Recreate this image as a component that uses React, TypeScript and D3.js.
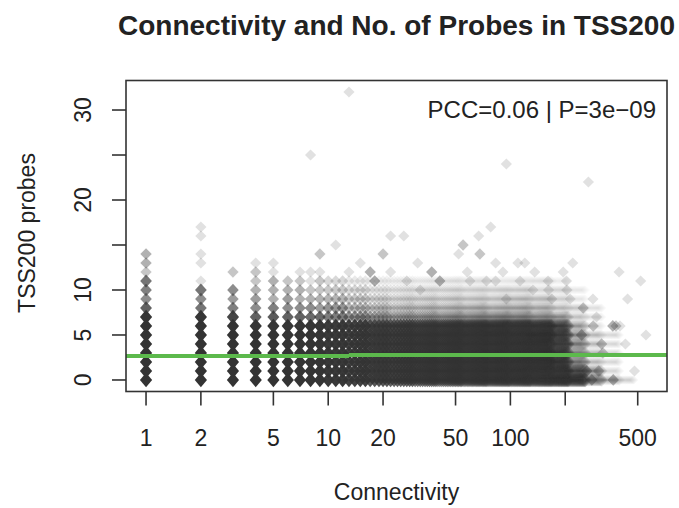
import React, { useMemo } from "react";
import * as d3 from "d3";

const W = 679;
const H = 508;
const BOX = { left: 126, right: 667, top: 80.5, bottom: 391.5 };

const xTicks = [1, 2, 5, 10, 20, 50, 100, 200, 500];
const xTickLabels = ["1", "2", "5", "10", "20", "50", "100", "", "500"];
const yTicks = [0, 5, 10, 15, 20, 25, 30];
const yTickLabels = ["0", "5", "10", "", "20", "", "30"];

const xDataRange = [1, 562];
const yDataRange = [0, 32];

// discrete connectivity columns: number of genes at TSS200 probes = 0,1,2,...
const columnX = [1, 2, 3, 4, 5, 6, 7, 8, 9];
const columnCounts: number[][] = [
  [40, 40, 40, 40, 40, 40, 40, 30, 9, 5, 6, 7, 2, 3, 3],
  [40, 40, 40, 40, 40, 40, 40, 25, 7, 5, 7, 1, 0, 1, 1, 0, 1, 1],
  [40, 40, 40, 40, 40, 40, 35, 15, 6, 4, 5, 0, 2],
  [40, 40, 40, 40, 40, 40, 30, 9, 5, 4, 3, 2, 2, 1],
  [40, 40, 40, 40, 40, 40, 30, 10, 6, 3, 3, 3, 1, 1],
  [35, 35, 35, 35, 35, 35, 25, 9, 5, 4, 3, 2],
  [35, 35, 35, 35, 35, 35, 25, 9, 5, 3, 3, 2, 1],
  [35, 35, 35, 35, 35, 35, 25, 8, 5, 3, 2, 1, 1],
  [30, 30, 30, 30, 30, 30, 25, 8, 4, 3, 2, 2, 1],
];

// dense region: mean genes per connectivity value, by connectivity bin (rows = probes 0..11)
const binStarts = [10, 13, 17, 22, 30, 40, 55, 75, 100, 130, 170, 210, 260, 320, 400, 480];
const binLast = 562;
const denseRows: number[][] = [
  [22, 16, 11, 9, 6.8, 5, 3.7, 2.7, 2.1, 1.6, 1.3, 0.75, 0.19, 0.055, 0.014, 0.003],
  [22, 16, 11, 9, 6.8, 5, 3.7, 2.7, 2.1, 1.6, 1.0, 0.4, 0.11, 0.033, 0.009, 0.0015],
  [22, 16, 11, 9, 6.8, 5, 3.7, 2.7, 2.1, 1.5, 0.8, 0.22, 0.06, 0.02, 0.005, 0],
  [22, 16, 11, 9, 6.8, 5, 3.7, 2.7, 2.1, 1.5, 0.76, 0.2, 0.055, 0.018, 0.0045, 0],
  [22, 16, 11, 9, 6.8, 5, 3.7, 2.7, 2.1, 1.5, 0.72, 0.18, 0.05, 0.016, 0.004, 0],
  [22, 16, 11, 9, 6.8, 5, 3.7, 2.7, 2.1, 1.4, 0.65, 0.15, 0.045, 0.015, 0.004, 0],
  [20, 15, 10, 8, 6, 4.5, 3.3, 2.4, 1.9, 1.3, 0.55, 0.12, 0.035, 0.012, 0.003, 0],
  [6.3, 4.6, 3.2, 2.1, 1.6, 1.16, 0.85, 0.63, 0.48, 0.32, 0.17, 0.068, 0.027, 0.011, 0.0036, 0],
  [4.5, 2.6, 1.8, 1.2, 0.9, 0.66, 0.49, 0.36, 0.28, 0.19, 0.105, 0.041, 0.016, 0.0066, 0.0018, 0],
  [2.8, 1.9, 1.2, 0.8, 0.6, 0.43, 0.31, 0.23, 0.17, 0.11, 0.065, 0.026, 0.01, 0.004, 0.0013, 0],
  [1.9, 1.3, 0.75, 0.52, 0.39, 0.3, 0.22, 0.15, 0.12, 0.075, 0.045, 0.018, 0.0075, 0.002, 0, 0],
  [1.3, 0.72, 0.4, 0.29, 0.21, 0.16, 0.11, 0.08, 0.064, 0.04, 0.024, 0.01, 0.005, 0.0016, 0, 0],
];

// isolated points: connectivity, probes, multiplicity
const sparseX = [13, 8, 95, 268, 78, 67, 22, 26, 55, 11, 68, 52, 20, 9, 110, 120, 220, 83, 15, 31, 395, 136, 195, 91, 58, 13, 22, 37, 17, 519, 161, 203, 74, 41, 18, 60, 83, 113, 27, 284, 440, 555, 480, 428, 380, 367, 317, 322, 297, 251, 246, 285, 263, 305, 280, 400, 204, 169, 95, 133, 162, 213, 32, 365];
const sparseY = [32, 25, 24, 22, 17, 16, 16, 16, 15, 15, 14, 14, 14, 14, 13, 13, 13, 13, 13, 13, 12, 12, 12, 12, 12, 12, 12, 12, 12, 11, 11, 11, 11, 11, 11, 11, 11, 11, 11, 9, 9, 5, 1, 4, 6, 0, 4, 3, 7, 8, 5, 6, 1, 1, 0, 6, 10, 9, 9, 10, 10, 9, 10, 6];
const sparseN = [1, 1, 1, 1, 1, 1, 1, 1, 2, 1, 2, 1, 2, 2, 1, 1, 1, 1, 1, 1, 1, 1, 1, 1, 1, 1, 1, 3, 3, 1, 1, 1, 1, 3, 3, 1, 1, 1, 1, 1, 1, 1, 1, 1, 2, 3, 2, 2, 1, 2, 3, 2, 3, 2, 3, 1, 1, 1, 1, 1, 1, 1, 1, 3];

const fitIntercept = 2.65;
const fitSlope = 0.063; // per log10(connectivity)

const title = "Connectivity and No. of Probes in TSS200";
const statLabel = "PCC=0.06 | P=3e\u221209";
const xTitle = "Connectivity";
const yTitle = "TSS200 probes";

const POINT_ALPHA = 0.15;
const POINT_COLOR = "#333333";
const RX = 5.6;
const RY = 5.6;
const FONT = "'Liberation Sans', Arial, Helvetica, sans-serif";
const TEXT = "#222";

function diamond(cx: number, cy: number, nEff: number) {
  // heavy overplotting spreads the anti-aliased fringe: grow the stack slightly
  const g = Math.min(1, Math.max(0, (nEff - 1) / 12));
  const rx = RX + 0.5 * g;
  const ry = RY + 1.6 * g;
  return `M${cx.toFixed(2)},${(cy - ry).toFixed(2)}L${(cx + rx).toFixed(2)},${cy.toFixed(2)}L${cx.toFixed(2)},${(cy + ry).toFixed(2)}L${(cx - rx).toFixed(2)},${cy.toFixed(2)}Z`;
}

export default function App() {
  const lx0 = Math.log10(xDataRange[0]);
  const lx1 = Math.log10(xDataRange[1]);
  const dx = (lx1 - lx0) * 0.04;
  const x = d3
    .scaleLog()
    .domain([Math.pow(10, lx0 - dx), Math.pow(10, lx1 + dx)])
    .range([BOX.left, BOX.right]);
  const dy = (yDataRange[1] - yDataRange[0]) * 0.04;
  const y = d3
    .scaleLinear()
    .domain([yDataRange[0] - dy, yDataRange[1] + dy])
    .range([BOX.bottom, BOX.top]);

  const marks = useMemo(() => {
    const out: { d: string; o: number }[] = [];
    const op = (n: number) => 1 - Math.pow(1 - POINT_ALPHA, n);
    denseRows.forEach((row, yi) => {
      binStarts.forEach((s, bi) => {
        const e = bi + 1 < binStarts.length ? binStarts[bi + 1] : binLast + 1;
        const m = row[bi];
        if (m <= 0) return;
        const o = op(m);
        for (let c = s; c < e; c++) {
          const nEff = m * Math.max(1, c / 6.8);
          out.push({ d: diamond(x(c), y(yi), nEff), o });
        }
      });
    });
    columnX.forEach((cx, i) => {
      columnCounts[i].forEach((n, yi) => {
        if (n > 0) out.push({ d: diamond(x(cx), y(yi), n), o: op(n) });
      });
    });
    sparseX.forEach((sx, i) => {
      out.push({ d: diamond(x(sx), y(sparseY[i]), sparseN[i]), o: op(sparseN[i]) });
    });
    return out;
  }, []);

  const [d0, d1] = x.domain();
  const fitLine = d3
    .line<number>()
    .x((v) => x(v))
    .y((v) => y(fitIntercept + fitSlope * Math.log10(v)))([d0, d1]);

  const boxCx = (BOX.left + BOX.right) / 2;
  const boxCy = (BOX.top + BOX.bottom) / 2 - 3;

  return (
    <svg
      width={W}
      height={H}
      viewBox={`0 0 ${W} ${H}`}
      style={{ position: "absolute", left: 0, top: 0, background: "#fff" }}
      fontFamily={FONT}
    >
      <rect x={0} y={0} width={W} height={H} fill="#fff" />
      <defs>
        <clipPath id="plotclip">
          <rect x={BOX.left} y={BOX.top} width={BOX.right - BOX.left} height={BOX.bottom - BOX.top} />
        </clipPath>
      </defs>
      <g clipPath="url(#plotclip)">
        {marks.map((m, i) => (
          <path key={i} d={m.d} fill={POINT_COLOR} fillOpacity={m.o} />
        ))}
        <path d={fitLine || ""} stroke="#5cb94c" strokeWidth={4} fill="none" shapeRendering="crispEdges" />
      </g>
      <rect
        x={BOX.left}
        y={BOX.top}
        width={BOX.right - BOX.left}
        height={BOX.bottom - BOX.top}
        fill="none"
        stroke="#333"
        strokeWidth={1.6}
      />
      {xTicks.map((t, i) => (
        <g key={"xt" + i}>
          <line x1={x(t)} x2={x(t)} y1={BOX.bottom} y2={BOX.bottom + 14} stroke="#333" strokeWidth={1.6} />
          {xTickLabels[i] && (
            <text x={x(t)} y={446} textAnchor="middle" fontSize={23} fill={TEXT}>
              {xTickLabels[i]}
            </text>
          )}
        </g>
      ))}
      {yTicks.map((t, i) => (
        <g key={"yt" + i}>
          <line x1={BOX.left - 14} x2={BOX.left} y1={y(t)} y2={y(t)} stroke="#333" strokeWidth={1.6} />
          {yTickLabels[i] && (
            <text
              transform={`translate(91,${y(t)}) rotate(-90)`}
              textAnchor="middle"
              fontSize={23}
              fill={TEXT}
            >
              {yTickLabels[i]}
            </text>
          )}
        </g>
      ))}
      <text x={(BOX.left + BOX.right) / 2} y={35} textAnchor="middle" fontSize={28} fontWeight="bold" fill={TEXT}>
        {title}
      </text>
      <text x={656} y={118} textAnchor="end" fontSize={24} fill={TEXT}>
        {statLabel}
      </text>
      <text x={boxCx} y={500} textAnchor="middle" fontSize={23} fill={TEXT}>
        {xTitle}
      </text>
      <text transform={`translate(35,${boxCy}) rotate(-90)`} textAnchor="middle" fontSize={23} fill={TEXT}>
        {yTitle}
      </text>
    </svg>
  );
}
